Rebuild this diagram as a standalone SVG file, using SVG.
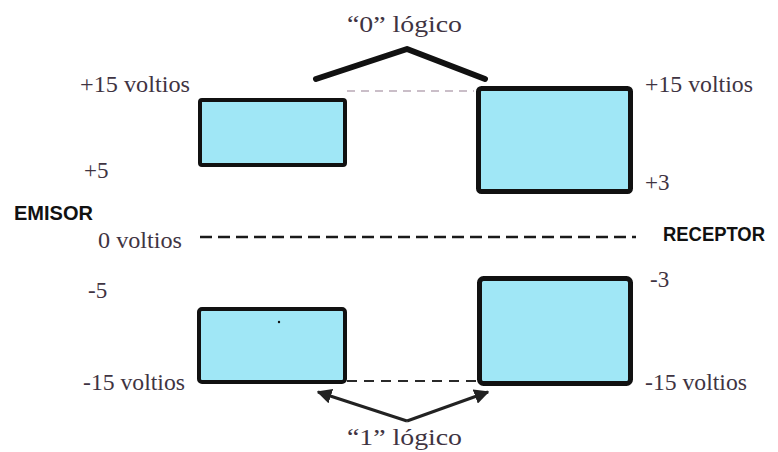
<svg xmlns="http://www.w3.org/2000/svg" width="778" height="452" viewBox="0 0 778 452">
<style>
.t{font-family:"Liberation Serif","Times New Roman",serif;font-size:23px;fill:#3f3442}
.b{font-family:"Liberation Sans",Arial,sans-serif;font-weight:bold;font-size:21px;fill:#111}
.box{fill:#a0e7f6;stroke:#111;stroke-linejoin:round}
</style>
<defs>
<marker id="ah" viewBox="0 0 10 10" refX="9" refY="5" markerWidth="5" markerHeight="5" orient="auto" markerUnits="strokeWidth">
<path d="M0,0 L10,5 L0,10 z" fill="#222"/>
</marker>
</defs>
<rect width="778" height="452" fill="#fff"/>
<g id="connectors">
<line x1="347" y1="91" x2="474" y2="91" stroke="#b9a9b6" stroke-width="1.5" stroke-dasharray="8,6"/>
<line x1="347" y1="381" x2="477" y2="381" stroke="#2a2a2a" stroke-width="2" stroke-dasharray="10,7"/>
<line x1="200" y1="237" x2="636" y2="237" stroke="#1a1a1a" stroke-width="2.5" stroke-dasharray="12,6"/>
<path d="M316,79 L407,49 L485,79" fill="none" stroke="#111" stroke-width="6" stroke-linejoin="round" stroke-linecap="round"/>
<path d="M407,421 L318,392" fill="none" stroke="#222" stroke-width="3" marker-end="url(#ah)"/>
<path d="M407,421 L488,392" fill="none" stroke="#222" stroke-width="3" marker-end="url(#ah)"/>
</g>
<g id="emisor-0">
<rect class="box" x="200" y="100" width="145" height="65" rx="2" stroke-width="4"/>
</g>
<g id="receptor-0">
<rect class="box" x="478.5" y="88.5" width="152" height="103" rx="3" stroke-width="5"/>
</g>
<g id="emisor-1">
<rect class="box" x="199" y="309" width="146" height="73" rx="3" stroke-width="4"/>
<circle cx="279" cy="322" r="1.2" fill="#111"/>
</g>
<g id="receptor-1">
<rect class="box" x="479.5" y="278.5" width="151" height="105" rx="4" stroke-width="5"/>
</g>
<g id="labels">
<text class="t" x="347" y="32" textLength="115" lengthAdjust="spacingAndGlyphs">“0” lógico</text>
<text class="t" x="347" y="445" textLength="115" lengthAdjust="spacingAndGlyphs">“1” lógico</text>
<text class="t" x="80" y="92" textLength="110" lengthAdjust="spacingAndGlyphs">+15 voltios</text>
<text class="t" x="645" y="92" textLength="108" lengthAdjust="spacingAndGlyphs">+15 voltios</text>
<text class="t" x="84" y="178">+5</text>
<text class="t" x="645" y="190">+3</text>
<text class="t" x="98" y="248" textLength="84" lengthAdjust="spacingAndGlyphs">0 voltios</text>
<text class="t" x="88" y="298">-5</text>
<text class="t" x="650" y="287">-3</text>
<text class="t" x="83" y="390" textLength="102" lengthAdjust="spacingAndGlyphs">-15 voltios</text>
<text class="t" x="645" y="390" textLength="102" lengthAdjust="spacingAndGlyphs">-15 voltios</text>
<text class="b" x="14" y="220" textLength="79" lengthAdjust="spacingAndGlyphs">EMISOR</text>
<text class="b" x="663" y="241" font-size="18" textLength="102" lengthAdjust="spacingAndGlyphs">RECEPTOR</text>
</g>
</svg>
